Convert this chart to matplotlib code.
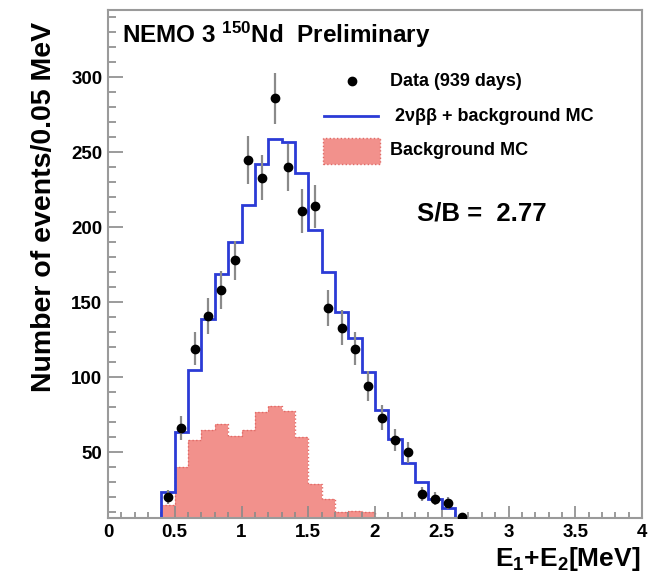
import numpy as np
import matplotlib
matplotlib.use("Agg")
import matplotlib.pyplot as plt
from matplotlib.patches import Rectangle
from matplotlib.ticker import MultipleLocator

plt.rcParams["font.family"] = ["Liberation Sans", "DejaVu Sans"]
plt.rcParams["font.weight"] = "bold"
plt.rcParams["mathtext.fontset"] = "custom"
plt.rcParams["mathtext.rm"] = "Liberation Sans:bold"
plt.rcParams["mathtext.bf"] = "Liberation Sans:bold"
plt.rcParams["mathtext.it"] = "Liberation Sans:bold"
plt.rcParams["mathtext.default"] = "bf"

# histogrammes de 0 a 4 MeV, pas de 0.1 MeV
bin_lo = 0.0
bin_hi = 4.0

# MC total (2nubb + bruit de fond), 40 bins
mc_total = [0, 0, 0, 0, 23.5, 63.5, 105, 139, 169, 190,
            215, 242, 259, 257, 236, 198, 170, 143.5, 126, 103.5,
            78, 59, 42.5, 30, 19, 12.5, 3, 0, 0, 0,
            0, 0, 0, 0, 0, 0, 0, 0, 0, 0]

# MC bruit de fond seul, 40 bins
mc_bkg = [0, 0, 0, 0, 15, 40, 58, 65, 68.5, 61,
          64.5, 77, 81, 77.5, 60, 29, 18.5, 10, 11, 10,
          0, 0, 0, 0, 0, 0, 0, 0, 0, 0,
          0, 0, 0, 0, 0, 0, 0, 0, 0, 0]

# donnees (939 jours)
data_x = [0.45, 0.55, 0.65, 0.75, 0.85, 0.95, 1.05, 1.15, 1.25, 1.35, 1.45, 1.55,
          1.65, 1.75, 1.85, 1.95, 2.05, 2.15, 2.25, 2.35, 2.45, 2.55, 2.65]
data_y = [20, 66, 119, 141, 158, 178, 245, 233, 286, 240, 211, 214,
          146, 133, 119, 94, 73, 58, 50, 22, 19, 16, 7]
data_err = [4.5, 8, 11, 12, 12.5, 13, 16, 15, 17, 15.5, 14.5, 14.5,
            12, 11.5, 11, 10, 8.5, 7.5, 7, 4.7, 4.4, 4, 2.6]

y_min = 6
y_max = 345

edges = np.linspace(bin_lo, bin_hi, len(mc_total) + 1)

fig = plt.figure(figsize=(6.65, 5.76), dpi=100)
ax = fig.add_axes([108 / 665, 58 / 576, 534 / 665, 508 / 576])

bleu = "#2b3bd6"
rouge = "#f2918c"

# ROOT dessine les bins vides sur le bas du cadre
bkg_plot = np.maximum(np.array(mc_bkg, dtype=float), y_min)
tot_plot = np.maximum(np.array(mc_total, dtype=float), y_min)

ax.stairs(bkg_plot, edges, baseline=y_min, fill=True, color=rouge, zorder=1)
ax.stairs(bkg_plot, edges, baseline=y_min, color="#e06a66", linestyle=":", linewidth=1.0, zorder=1.5)
ax.stairs(tot_plot, edges, baseline=None, color=bleu, linewidth=2.0, zorder=2)

ax.errorbar(data_x, data_y, yerr=data_err, fmt="o", color="black", markersize=6,
            ecolor="#8a8a8a", elinewidth=1.6, capsize=0, zorder=3)

ax.set_xlim(bin_lo, bin_hi)
ax.set_ylim(y_min, y_max)

ax.xaxis.set_minor_locator(MultipleLocator(0.1))
ax.yaxis.set_minor_locator(MultipleLocator(10))
ax.set_yticks([50, 100, 150, 200, 250, 300])
ax.set_xticks([0, 0.5, 1, 1.5, 2, 2.5, 3, 3.5, 4])
ax.set_xticklabels(["0", "0.5", "1", "1.5", "2", "2.5", "3", "3.5", "4"])

ax.tick_params(axis="both", which="both", direction="in", color="#8a8a8a", width=1.2,
               top=False, right=False, labelsize=13.5)
ax.tick_params(axis="x", which="major", length=9, pad=4)
ax.tick_params(axis="x", which="minor", length=4.5)
ax.tick_params(axis="y", which="major", length=10.5, pad=4)
ax.tick_params(axis="y", which="minor", length=5.5)

for s in ax.spines.values():
    s.set_color("#9a9a9a")
    s.set_linewidth(1.5)

fig.text(44 / 665, 1 - 207 / 576, "Number of events/0.05 MeV", rotation=90,
         ha="center", va="center", fontsize=20.5, fontweight="bold")
fig.text(640 / 665, 1 - 559 / 576, r"E$_1$+E$_2$[MeV]", ha="right", va="center",
         fontsize=19, fontweight="bold")

ax.text(0.026, 0.951, r"NEMO 3 $^{150}$Nd  Preliminary", transform=ax.transAxes,
        ha="left", va="center", fontsize=17.5, fontweight="bold")

# legende faite a la main, comme dans ROOT
ax.plot([0.457], [0.860], "o", color="black", markersize=6, transform=ax.transAxes)
ax.text(0.528, 0.860, "Data (939 days)", transform=ax.transAxes, ha="left", va="center",
        fontsize=13)
ax.plot([0.404, 0.506], [0.791, 0.791], color=bleu, linewidth=2.0, transform=ax.transAxes)
ax.text(0.537, 0.791, "2νββ + background MC", transform=ax.transAxes, ha="left", va="center",
        fontsize=13)
ax.add_patch(Rectangle((0.403, 0.697), 0.107, 0.051, transform=ax.transAxes,
                       facecolor=rouge, edgecolor="#e06a66", linestyle=":", linewidth=1.0))
ax.text(0.528, 0.724, "Background MC", transform=ax.transAxes, ha="left", va="center",
        fontsize=13)

ax.text(0.579, 0.600, "S/B =  2.77", transform=ax.transAxes, ha="left", va="center",
        fontsize=18.5, fontweight="bold")

fig.savefig("out.png", dpi=100)
